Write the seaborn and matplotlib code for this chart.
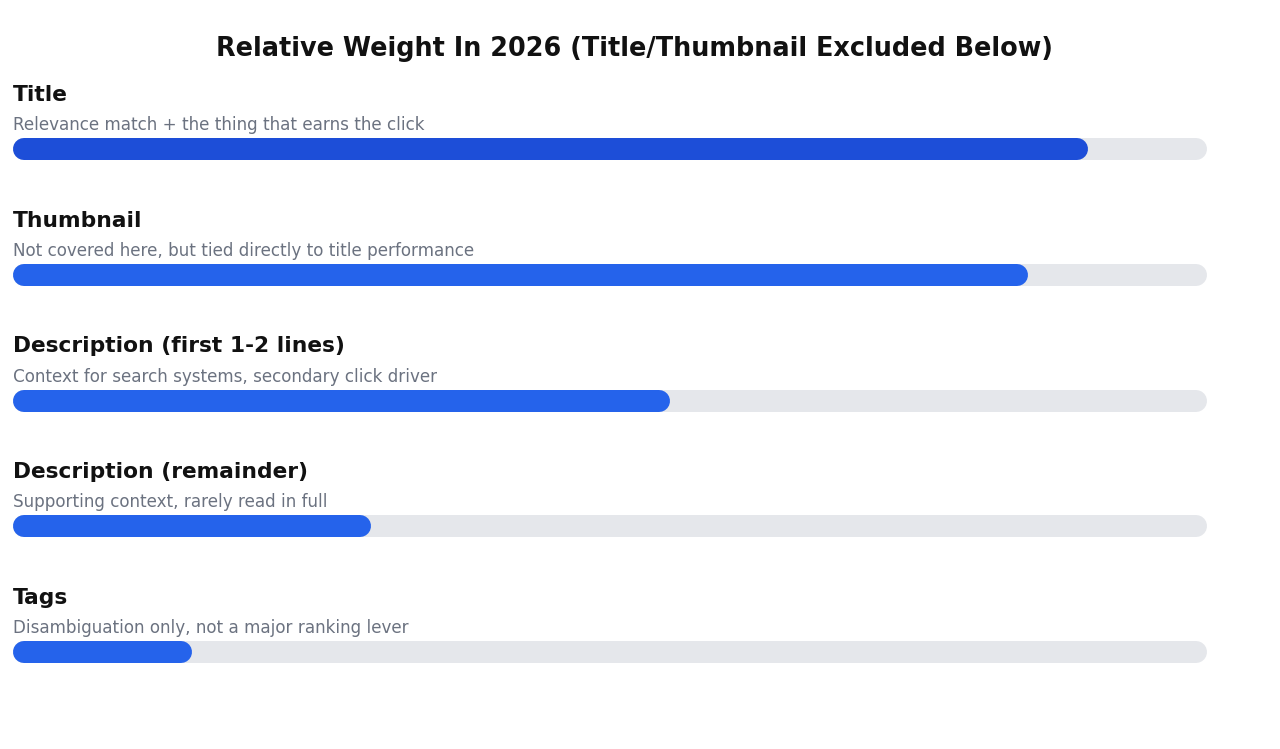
import matplotlib
matplotlib.use("Agg")
import matplotlib.pyplot as plt
import seaborn as sns
import pandas as pd
import matplotlib.transforms as mtransforms

categories = ["Title", "Thumbnail", "Description (first 1-2 lines)",
              "Description (remainder)", "Tags"]
notes = ["Relevance match + the thing that earns the click",
         "Not covered here, but tied directly to title performance",
         "Context for search systems, secondary click driver",
         "Supporting context, rarely read in full",
         "Disambiguation only, not a major ranking lever"]
weights = [90, 85, 55, 30, 15]
bar_colors = ["#1d4ed8", "#2563eb", "#2563eb", "#2563eb", "#2563eb"]
track_max = [100, 100, 100, 100, 100]

sns.set_theme(style="white")
plt.rcParams["font.family"] = ["DejaVu Sans"]

W, H = 1280, 749
DPI = 100
fig = plt.figure(figsize=(W / DPI, H / DPI), dpi=DPI)
spacing = 125.75
top_px = 149 - spacing / 2
bot_px = 652 + spacing / 2
ax = fig.add_axes([13 / W, 1 - bot_px / H, (1207 - 13) / W, (bot_px - top_px) / H])

df = pd.DataFrame({"cat": categories, "w": weights, "track": track_max})
bar_px = 22
bar_h = bar_px / spacing
sns.barplot(data=df, y="cat", x="track", color="#e5e7eb", width=bar_h, ax=ax,
            orient="h", saturation=1)
sns.barplot(data=df, y="cat", x="w", hue="cat", palette=bar_colors, width=bar_h,
            ax=ax, orient="h", saturation=1, legend=False)
ax.set_xlim(0, 100)
ax.set_ylim(len(categories) - 0.5, -0.5)
ax.axis("off")

# turn the rectangular bars into pill shapes (true semicircular ends)
fig.canvas.draw()
tr = ax.transData
x_per_px = 1 / (tr.transform((1, 0))[0] - tr.transform((0, 0))[0])
r = (bar_px / 2) * x_per_px
lw_pt = bar_px * 72 / DPI
for p in list(ax.patches):
    x0, y0 = p.get_x(), p.get_y()
    w, h = p.get_width(), p.get_height()
    fc = p.get_facecolor()
    z = p.get_zorder()
    p.remove()
    yc = y0 + h / 2
    ax.plot([x0 + r, x0 + w - r], [yc, yc], color=fc, lw=lw_pt,
            solid_capstyle="round", zorder=z, clip_on=False)

for i, (c, n) in enumerate(zip(categories, notes)):
    t1 = mtransforms.offset_copy(ax.transData, fig=fig, x=0, y=54, units="dots")
    t2 = mtransforms.offset_copy(ax.transData, fig=fig, x=0, y=24, units="dots")
    ax.text(0, i, c, transform=t1, ha="left", va="center", fontsize=15.66,
            fontweight="bold", color="#111111", clip_on=False)
    ax.text(0, i, n, transform=t2, ha="left", va="center", fontsize=12.05,
            color="#6b7280", clip_on=False)

fig.text(634 / W, 1 - 48.5 / H, "Relative Weight In 2026 (Title/Thumbnail Excluded Below)",
         ha="center", va="center", fontsize=18.37, fontweight="bold", color="#111111")

fig.savefig("out.png", dpi=DPI, facecolor="white")
